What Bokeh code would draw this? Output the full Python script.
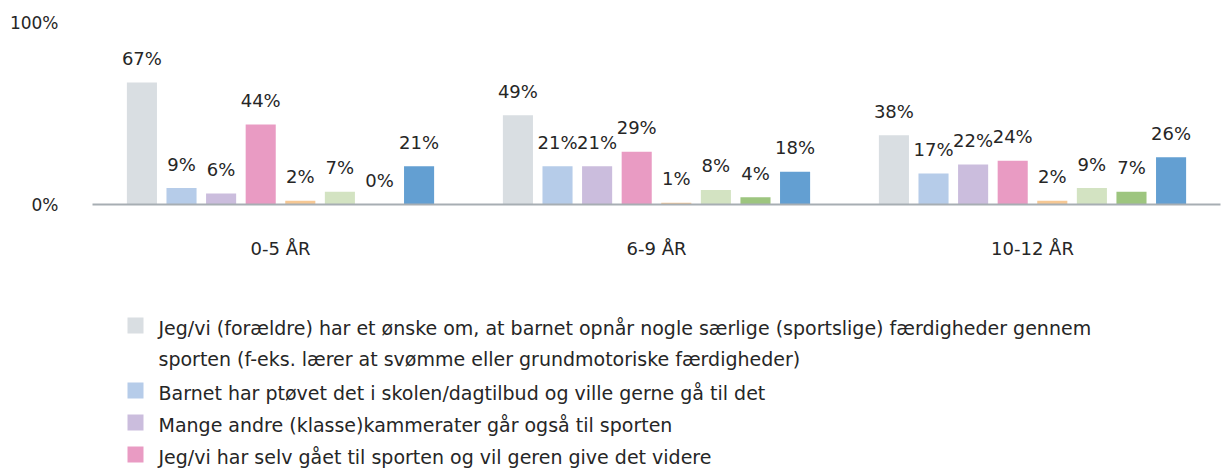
from bokeh.plotting import figure
from bokeh.models import FactorRange, Range1d, FixedTicker, PrintfTickFormatter, ColumnDataSource
from bokeh.transform import dodge
from bokeh.layouts import column
from bokeh.core.properties import value
from bokeh.embed import file_html
from bokeh.resources import INLINE

# ---------------- data ----------------
groups = ["0-5 ÅR", "6-9 ÅR", "10-12 ÅR"]
s1 = [67, 49, 38]
s2 = [9, 21, 17]
s3 = [6, 21, 22]
s4 = [44, 29, 24]
s5 = [2, 1, 2]
s6 = [7, 8, 9]
s7 = [0, 4, 7]
s8 = [21, 18, 26]
series = [s1, s2, s3, s4, s5, s6, s7, s8]
colors = ["#d9dee2", "#b6cce9", "#cbbddd", "#e99bc3", "#f6c894", "#d3e3c2", "#9dc57f", "#639fd2"]
legend_labels = [
    ["Jeg/vi (forældre) har et ønske om, at barnet opnår nogle særlige (sportslige) færdigheder gennem",
     "sporten (f-eks. lærer at svømme eller grundmotoriske færdigheder)"],
    ["Barnet har ptøvet det i skolen/dagtilbud og ville gerne gå til det"],
    ["Mange andre (klasse)kammerater går også til sporten"],
    ["Jeg/vi har selv gået til sporten og vil geren give det videre"],
]
y_ticks = [0, 100]

FONT_NAME = "DejaVu Sans"
FONT = value(FONT_NAME)
TXT = "#262626"

W = 1223
TOP_H = 270
LEG_H = 468 - TOP_H
LEFT = 92
RIGHT = 3

# ---------------- main chart ----------------
p = figure(x_range=FactorRange(*groups), y_range=Range1d(0, 100),
           width=W, height=TOP_H, output_backend="svg", toolbar_location=None,
           min_border_left=LEFT, min_border_right=RIGHT, min_border_top=22, min_border_bottom=66)
p.x_range.range_padding = 0
p.outline_line_color = None
p.grid.visible = False
p.background_fill_color = "white"

pitch = 0.1053
bw = 0.08
for i, (vals, col) in enumerate(zip(series, colors)):
    off = (i - 3.5) * pitch
    src = ColumnDataSource(dict(g=groups, v=vals, t=[f"{v}%" for v in vals]))
    p.vbar(x=dodge("g", off, range=p.x_range), top="v", width=bw, source=src,
           fill_color=col, line_color=None)
    p.text(x=dodge("g", off, range=p.x_range), y="v", text="t", source=src,
           text_align="center", text_baseline="middle", y_offset=-24,
           text_font=FONT, text_font_size="18px", text_color=TXT)

p.yaxis.ticker = FixedTicker(ticks=y_ticks)
p.yaxis.formatter = PrintfTickFormatter(format="%d%%")
p.yaxis.axis_line_color = None
p.yaxis.major_tick_line_color = None
p.yaxis.minor_tick_line_color = None
p.yaxis.major_tick_out = 0
p.yaxis.major_label_standoff = 34
p.yaxis.major_label_text_font = FONT_NAME
p.yaxis.major_label_text_font_size = "17px"
p.yaxis.major_label_text_color = TXT

p.xaxis.axis_line_color = "#a7aeb3"
p.xaxis.axis_line_width = 2
p.xaxis.major_tick_line_color = None
p.xaxis.minor_tick_line_color = None
p.xaxis.major_tick_out = 0
p.xaxis.major_label_standoff = 33
p.xaxis.major_label_text_font = FONT_NAME
p.xaxis.major_label_text_font_size = "18px"
p.xaxis.major_label_text_color = TXT

# ---------------- legend (coordinates = page pixels) ----------------
lg = figure(width=W, height=LEG_H, x_range=Range1d(LEFT, W - RIGHT), y_range=Range1d(468, TOP_H),
            output_backend="svg", toolbar_location=None,
            x_axis_type=None, y_axis_type=None,
            min_border_left=LEFT, min_border_right=RIGHT, min_border_top=0, min_border_bottom=0)
lg.outline_line_color = None
lg.grid.visible = False

sq_x, sq_y = [], []
tx, ty, tt = [], [], []
y = 325
for i, lines in enumerate(legend_labels):
    sq_x.append(135)
    sq_y.append(y)
    for j, line in enumerate(lines):
        tx.append(158)
        ty.append(y + 2 + j * 31)
        tt.append(line)
    y += 32 + 33 * (len(lines) - 1)

lg.rect(x=sq_x, y=sq_y, width=16, height=16, fill_color=colors[:len(legend_labels)], line_color=None)
lg.text(x=tx, y=ty, text=tt, text_align="left", text_baseline="middle",
        text_font=FONT, text_font_size="19px", text_color=TXT)

layout = column(p, lg, spacing=0)
open("out.html", "w").write(file_html(layout, INLINE))
